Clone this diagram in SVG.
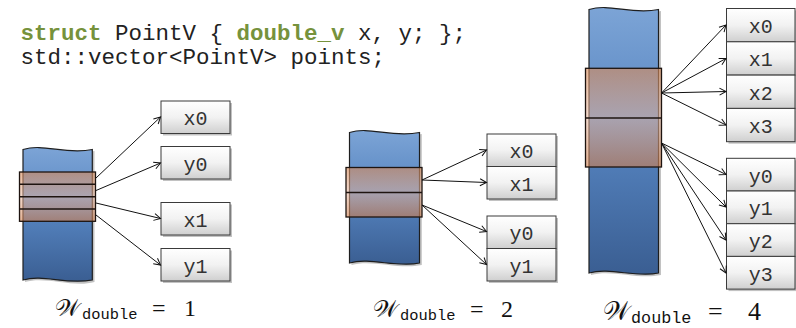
<svg xmlns="http://www.w3.org/2000/svg" width="796" height="328" viewBox="0 0 796 328">
<defs>
<linearGradient id="blue" x1="0" y1="0" x2="0" y2="1">
<stop offset="0" stop-color="#7ca4d6"/>
<stop offset="0.5" stop-color="#5583bf"/>
<stop offset="1" stop-color="#3a5e92"/>
</linearGradient>
<linearGradient id="band" x1="0" y1="0" x2="0" y2="1">
<stop offset="0" stop-color="#d88a58" stop-opacity="0.62"/>
<stop offset="0.5" stop-color="#e8b8a0" stop-opacity="0.55"/>
<stop offset="1" stop-color="#d08050" stop-opacity="0.62"/>
</linearGradient>
<linearGradient id="cell" x1="0" y1="0" x2="0" y2="1">
<stop offset="0" stop-color="#ffffff"/>
<stop offset="0.5" stop-color="#f2f2f2"/>
<stop offset="1" stop-color="#cfcfcf"/>
</linearGradient>
<marker id="arr" markerWidth="10" markerHeight="10" refX="8" refY="5" orient="auto" markerUnits="userSpaceOnUse">
<path d="M1.5,1.5 L8,5 L1.5,8.5" fill="none" stroke="#111" stroke-width="1"/>
</marker>
</defs>
<style>
.code{font-family:"Liberation Mono","Courier New",monospace;font-size:22.5px;fill:#222}
.kw{font-weight:bold;fill:#76923c}
.strip{fill:url(#blue);stroke:#1e1e1e;stroke-width:1.2}
.sshadow{fill:#9a9a9a;opacity:0.6}
.band{fill:url(#band);stroke:#1e1410;stroke-width:1.3}
.div{stroke:#1e1410;stroke-width:1.5}
.cell{fill:url(#cell);stroke:#3a3a3a;stroke-width:1}
.shadow{fill:#a8a8a8;opacity:0.7}
.lbl{font-family:"Liberation Mono","Courier New",monospace;font-size:20px;fill:#333;text-anchor:middle}
.conn line{stroke:#111;stroke-width:1;marker-end:url(#arr)}
.math{font-family:"Liberation Serif","DejaVu Serif",serif;font-size:24px;fill:#111}
.sub{font-family:"Liberation Mono","Courier New",monospace;font-size:15.4px;fill:#111}
</style>

<g id="code">
<text class="code" x="20.5" y="40"><tspan class="kw">struct</tspan> PointV { <tspan class="kw">double_v</tspan> x, y; };</text>
<text class="code" x="20.5" y="63.5">std::vector&lt;PointV&gt; points;</text>
</g>

<!-- Diagram 1 -->
<g id="strip1">
<path class="sshadow" d="M25,151 C46,145 67,157 94.5,151 L94.5,282 C73,288 46,276 25,282 Z"/>
<path class="strip" d="M23,149.5 C44,143 65,155 92.3,149.5 L92.3,280 C65,285 44,274 23,280 Z"/>
<rect class="band" x="19.5" y="172" width="76" height="49.3"/>
<line class="div" x1="19.5" y1="184.3" x2="95.5" y2="184.3"/>
<line class="div" x1="19.5" y1="196.7" x2="95.5" y2="196.7"/>
<line class="div" x1="19.5" y1="209" x2="95.5" y2="209"/>
</g>
<g id="d1x0"><rect class="shadow" x="163" y="103" width="69" height="32.5"/><rect class="cell" x="161" y="101" width="69" height="32.5"/><text class="lbl" x="195.5" y="125">x0</text></g>
<g id="d1y0"><rect class="shadow" x="163" y="148.5" width="69" height="32.5"/><rect class="cell" x="161" y="146.5" width="69" height="32.5"/><text class="lbl" x="195.5" y="170.5">y0</text></g>
<g id="d1x1"><rect class="shadow" x="163" y="204.5" width="69" height="32.5"/><rect class="cell" x="161" y="202.5" width="69" height="32.5"/><text class="lbl" x="195.5" y="226.5">x1</text></g>
<g id="d1y1"><rect class="shadow" x="163" y="250.5" width="69" height="32.5"/><rect class="cell" x="161" y="248.5" width="69" height="32.5"/><text class="lbl" x="195.5" y="272.5">y1</text></g>
<g id="label1"><text class="math" y="316"><tspan x="55">𝒲</tspan><tspan class="sub" x="82" y="319">double</tspan><tspan x="152" y="316">=</tspan><tspan x="184">1</tspan></text></g>

<!-- Diagram 2 -->
<g id="strip2">
<path class="sshadow" d="M351.5,134 C372,128 393,140 421.8,134 L421.8,265 C399,270 372,259 351.5,265 Z"/>
<path class="strip" d="M349.5,132.5 C370,126 391,138 419.5,132.5 L419.5,263 C397,268 370,257 349.5,263 Z"/>
<rect class="band" x="346" y="167.5" width="76" height="49.5"/>
<line class="div" x1="346" y1="192.5" x2="422" y2="192.5"/>
</g>
<g id="d2x0"><rect class="shadow" x="489" y="136" width="69" height="32.5"/><rect class="cell" x="487" y="134" width="69" height="32.5"/><text class="lbl" x="521.5" y="158">x0</text></g>
<g id="d2x1"><rect class="shadow" x="489" y="168.5" width="69" height="32.5"/><rect class="cell" x="487" y="166.5" width="69" height="32.5"/><text class="lbl" x="521.5" y="190.5">x1</text></g>
<g id="d2y0"><rect class="shadow" x="489" y="218" width="69" height="32.5"/><rect class="cell" x="487" y="216" width="69" height="32.5"/><text class="lbl" x="521.5" y="240">y0</text></g>
<g id="d2y1"><rect class="shadow" x="489" y="250.5" width="69" height="32.5"/><rect class="cell" x="487" y="248.5" width="69" height="32.5"/><text class="lbl" x="521.5" y="272.5">y1</text></g>
<g id="label2"><text class="math" y="316.5"><tspan x="373">𝒲</tspan><tspan class="sub" x="400" y="319.5">double</tspan><tspan x="470" y="316.5">=</tspan><tspan x="501">2</tspan></text></g>

<!-- Diagram 3 -->
<g id="strip3">
<path class="sshadow" d="M591,11 C612,5 633,17 661,11 L661,275 C638,280 612,269 591,275 Z"/>
<path class="strip" d="M589,9.5 C610,3 631,15 658.5,9.5 L658.5,273 C636,278 610,267 589,273 Z"/>
<rect class="band" x="585.5" y="68.3" width="76" height="98.7"/>
<line class="div" x1="585.5" y1="118" x2="661.5" y2="118"/>
</g>
<g id="d3x0"><rect class="shadow" x="728.5" y="10.5" width="69" height="33.3"/><rect class="cell" x="726.5" y="8.5" width="68.5" height="33.3"/><text class="lbl" x="760.7" y="33">x0</text></g>
<g id="d3x1"><rect class="shadow" x="728.5" y="43.8" width="69" height="33.3"/><rect class="cell" x="726.5" y="41.8" width="68.5" height="33.3"/><text class="lbl" x="760.7" y="66.3">x1</text></g>
<g id="d3x2"><rect class="shadow" x="728.5" y="77.1" width="69" height="33.3"/><rect class="cell" x="726.5" y="75.1" width="68.5" height="33.3"/><text class="lbl" x="760.7" y="99.6">x2</text></g>
<g id="d3x3"><rect class="shadow" x="728.5" y="110.4" width="69" height="33.3"/><rect class="cell" x="726.5" y="108.4" width="68.5" height="33.3"/><text class="lbl" x="760.7" y="132.9">x3</text></g>
<g id="d3y0"><rect class="shadow" x="728.5" y="160.3" width="69" height="32.7"/><rect class="cell" x="726.5" y="158.3" width="68.5" height="32.7"/><text class="lbl" x="760.7" y="182.5">y0</text></g>
<g id="d3y1"><rect class="shadow" x="728.5" y="193" width="69" height="32.7"/><rect class="cell" x="726.5" y="191" width="68.5" height="32.7"/><text class="lbl" x="760.7" y="215.2">y1</text></g>
<g id="d3y2"><rect class="shadow" x="728.5" y="225.7" width="69" height="32.7"/><rect class="cell" x="726.5" y="223.7" width="68.5" height="32.7"/><text class="lbl" x="760.7" y="247.9">y2</text></g>
<g id="d3y3"><rect class="shadow" x="728.5" y="258.4" width="69" height="32.7"/><rect class="cell" x="726.5" y="256.4" width="68.5" height="32.7"/><text class="lbl" x="760.7" y="280.6">y3</text></g>
<g id="label3"><text class="math" y="320" style="font-size:26px"><tspan x="603">𝒲</tspan><tspan class="sub" x="631" y="323" style="font-size:16.8px">double</tspan><tspan x="708" y="320">=</tspan><tspan x="748">4</tspan></text></g>

<g id="connectors" class="conn">
<line x1="96" y1="178" x2="160.5" y2="117"/>
<line x1="96" y1="190.5" x2="160.5" y2="163"/>
<line x1="96" y1="203" x2="160.5" y2="218.5"/>
<line x1="96" y1="215" x2="160.5" y2="265"/>
<line x1="422" y1="180" x2="486.5" y2="150"/>
<line x1="422" y1="180" x2="486.5" y2="182.5"/>
<line x1="422" y1="205" x2="486.5" y2="231.5"/>
<line x1="422" y1="205" x2="486.5" y2="264.5"/>
<line x1="661.5" y1="93" x2="726" y2="25"/>
<line x1="661.5" y1="93" x2="726" y2="58.5"/>
<line x1="661.5" y1="93" x2="726" y2="91.5"/>
<line x1="661.5" y1="93" x2="726" y2="125"/>
<line x1="661.5" y1="143" x2="726" y2="174.5"/>
<line x1="661.5" y1="143" x2="726" y2="207"/>
<line x1="661.5" y1="143" x2="726" y2="240"/>
<line x1="661.5" y1="143" x2="726" y2="273"/>
</g>
</svg>
